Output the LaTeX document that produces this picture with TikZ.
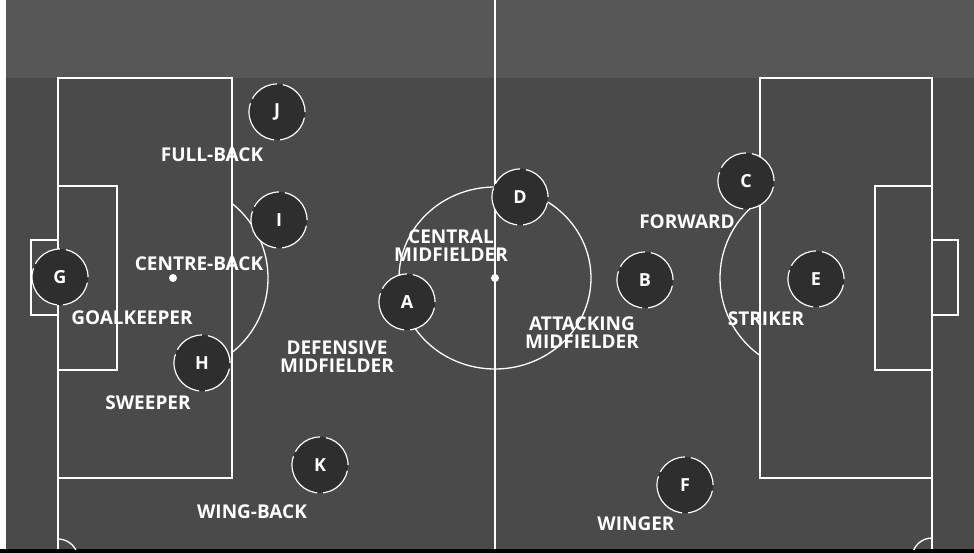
\documentclass[tikz,border=0pt]{standalone}
\usepackage{fontspec}
\setmainfont{Open Sans}
\usepackage{tikz}
\usetikzlibrary{positioning,calc}

\definecolor{turfgrey}{HTML}{4A4A4A}
\definecolor{bandgrey}{HTML}{575757}
\definecolor{discgrey}{HTML}{2E2E2E}

\begin{document}
\begin{tikzpicture}[
    x=1pt, y=-1pt,
    line_style/.style={draw=white!80, line width=1.3pt},
    player_style/.style={circle, fill=discgrey, draw=white!80, line width=1.2pt,
        minimum size=56pt, inner sep=0pt, text=white!90,
        font=\fontsize{18}{19}\selectfont\bfseries,
        dash pattern=on 38pt off 6pt on 30pt off 5pt on 50pt off 6pt on 35pt off 6pt},
    label_style/.style={text=white, align=center, inner sep=0pt,
        font=\fontsize{19}{18}\selectfont\bfseries}
]
\useasboundingbox (0,0) rectangle (974,553);

% ===== PITCH =====
\fill[turfgrey] (0,0) rectangle (974,553);
\fill[bandgrey] (0,0) rectangle (974,78);
\fill[black] (0,549) rectangle (974,553);
\fill[white] (0,0) rectangle (6,549);

% Centre line, circle and spot
\draw[line_style] (495,0) -- (495,549);
\draw[line_style] (495,278) ellipse (96pt and 91pt);
\fill[white!80] (495,278) circle (4pt);

% Left end
\draw[line_style] (58,78) rectangle (232,478);
\draw[line_style] (58,186) rectangle (117,370);
\draw[line_style] (31,240) rectangle (58,315);
\draw[line_style] (58,478) -- (58,549);
\fill[white!80] (173,278) circle (4pt);
\begin{scope}
  \clip (232,0) rectangle (400,549);
  \draw[line_style] (173,278) circle (95pt);
\end{scope}
\begin{scope}
  \clip (58,500) rectangle (120,549);
  \draw[line_style] (58,559) circle (20pt);
\end{scope}

% Right end
\draw[line_style] (760,78) rectangle (932,478);
\draw[line_style] (875,186) rectangle (932,370);
\draw[line_style] (932,240) rectangle (958,315);
\draw[line_style] (932,478) -- (932,549);
\begin{scope}
  \clip (600,0) rectangle (760,549);
  \draw[line_style] (815,278) circle (95pt);
\end{scope}
\begin{scope}
  \clip (870,500) rectangle (932,549);
  \draw[line_style] (932,558) circle (20pt);
\end{scope}

% ===== PLAYERS =====
\node[player_style] (G) at (60,277) {G};
\node[player_style] (J) at (277,112) {J};
\node[player_style] (I) at (279,220) {I};
\node[player_style] (H) at (202,363) {H};
\node[player_style] (K) at (320,465) {K};
\node[player_style] (A) at (407,302) {A};
\node[player_style] (D) at (520,197) {D};
\node[player_style] (B) at (645,280) {B};
\node[player_style] (C) at (746,181) {C};
\node[player_style] (E) at (816,279) {E};
\node[player_style] (F) at (685,485) {F};

% ===== POSITION LABELS =====
\node[label_style] (full_back) at (212,155) {FULL-BACK};
\node[label_style] (centre_back) at (199,264) {CENTRE-BACK};
\node[label_style] (goalkeeper) at (132,318) {GOALKEEPER};
\node[label_style] (sweeper) at (148,403) {SWEEPER};
\node[label_style] (wing_back) at (252,512) {WING-BACK};
\node[label_style] (def_mid) at (337,357) {DEFENSIVE\\MIDFIELDER};
\node[label_style] (cen_mid) at (451,246) {CENTRAL\\MIDFIELDER};
\node[label_style] (att_mid) at (582,333) {ATTACKING\\MIDFIELDER};
\node[label_style] (forward) at (687,222) {FORWARD};
\node[label_style] (striker) at (766,319) {STRIKER};
\node[label_style] (winger) at (636,524) {WINGER};

\end{tikzpicture}
\end{document}
